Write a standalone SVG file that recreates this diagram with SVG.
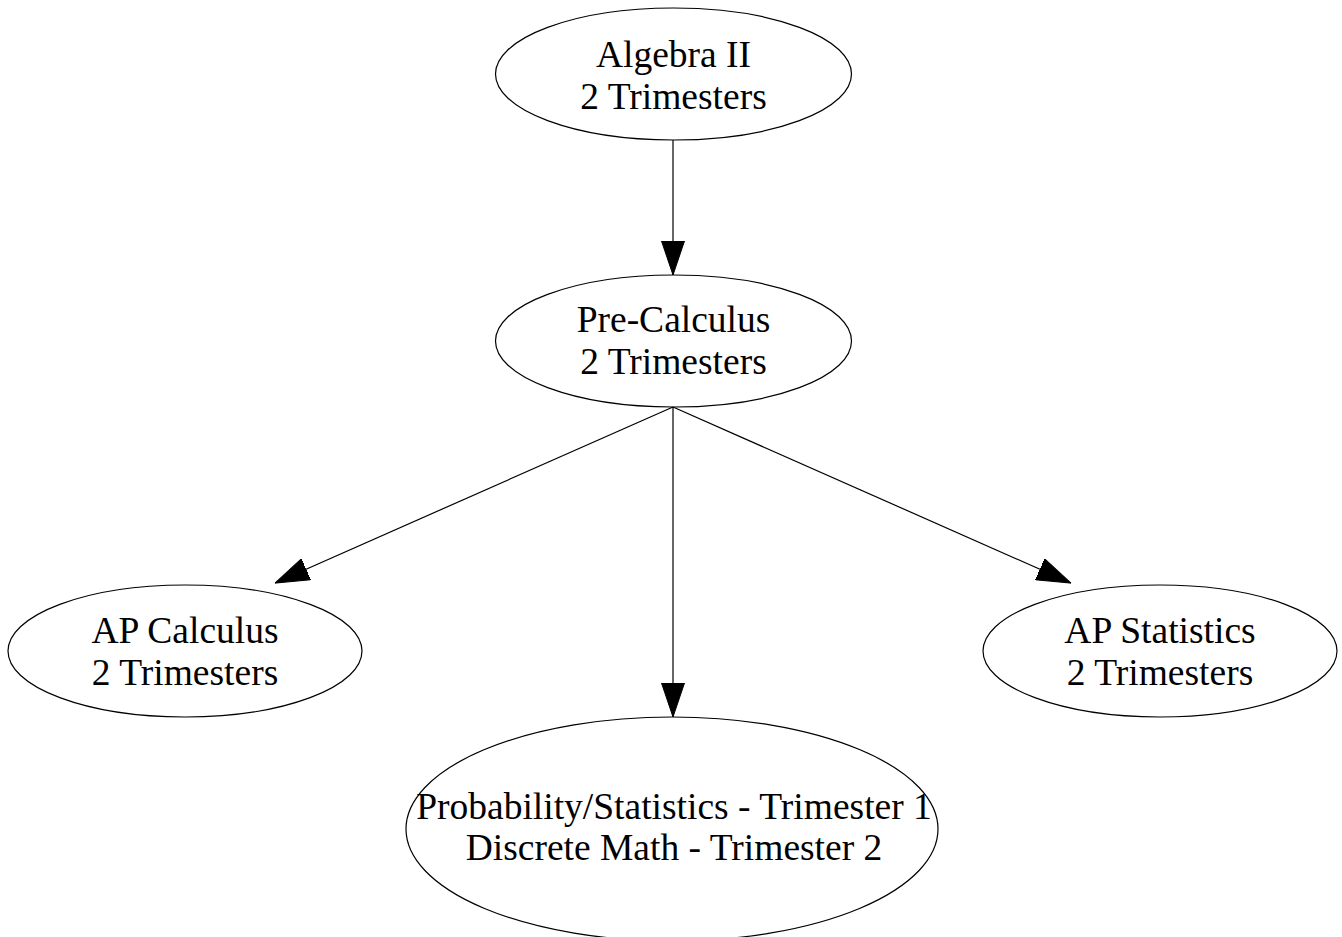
<svg xmlns="http://www.w3.org/2000/svg" width="1342" height="937" viewBox="0 0 1342 937">
<style>
.n ellipse{fill:none;stroke:#000;stroke-width:1.2}
.n text{font-family:"Liberation Serif","Times New Roman",serif;font-size:37.5px;text-anchor:middle;fill:#000}
.e path{fill:none;stroke:#000;stroke-width:1.2;marker-end:url(#ah)}
</style>
<defs>
<marker id="ah" viewBox="0 -12 34 24" refX="34" refY="0" markerWidth="34" markerHeight="24" markerUnits="userSpaceOnUse" orient="auto">
<path d="M0,-11.5 L34,0 L0,11.5 Z" fill="#000" stroke="#000" stroke-width="1"/>
</marker>
</defs>
<rect width="1342" height="937" fill="#fff"/>
<g id="edges" class="e">
<path d="M673,140 L673,275"/>
<path d="M673,407 L275,583"/>
<path d="M673,407 L673,717"/>
<path d="M673,407 L1071,583"/>
</g>
<g id="algebra2" class="n">
<ellipse cx="673.5" cy="74" rx="178" ry="66"/>
<text x="673.5" y="67">Algebra II</text>
<text x="673.5" y="108.5">2 Trimesters</text>
</g>
<g id="precalc" class="n">
<ellipse cx="673.5" cy="341" rx="178" ry="66"/>
<text x="673.5" y="332">Pre-Calculus</text>
<text x="673.5" y="373.5">2 Trimesters</text>
</g>
<g id="apcalc" class="n">
<ellipse cx="185" cy="651" rx="177" ry="66"/>
<text x="185" y="643">AP Calculus</text>
<text x="185" y="684.5">2 Trimesters</text>
</g>
<g id="apstats" class="n">
<ellipse cx="1160" cy="651" rx="177" ry="66"/>
<text x="1160" y="643">AP Statistics</text>
<text x="1160" y="684.5">2 Trimesters</text>
</g>
<g id="probstats" class="n">
<ellipse cx="672" cy="829" rx="266" ry="112"/>
<text x="674" y="818.5">Probability/Statistics - Trimester 1</text>
<text x="674" y="860">Discrete Math - Trimester 2</text>
</g>
</svg>
